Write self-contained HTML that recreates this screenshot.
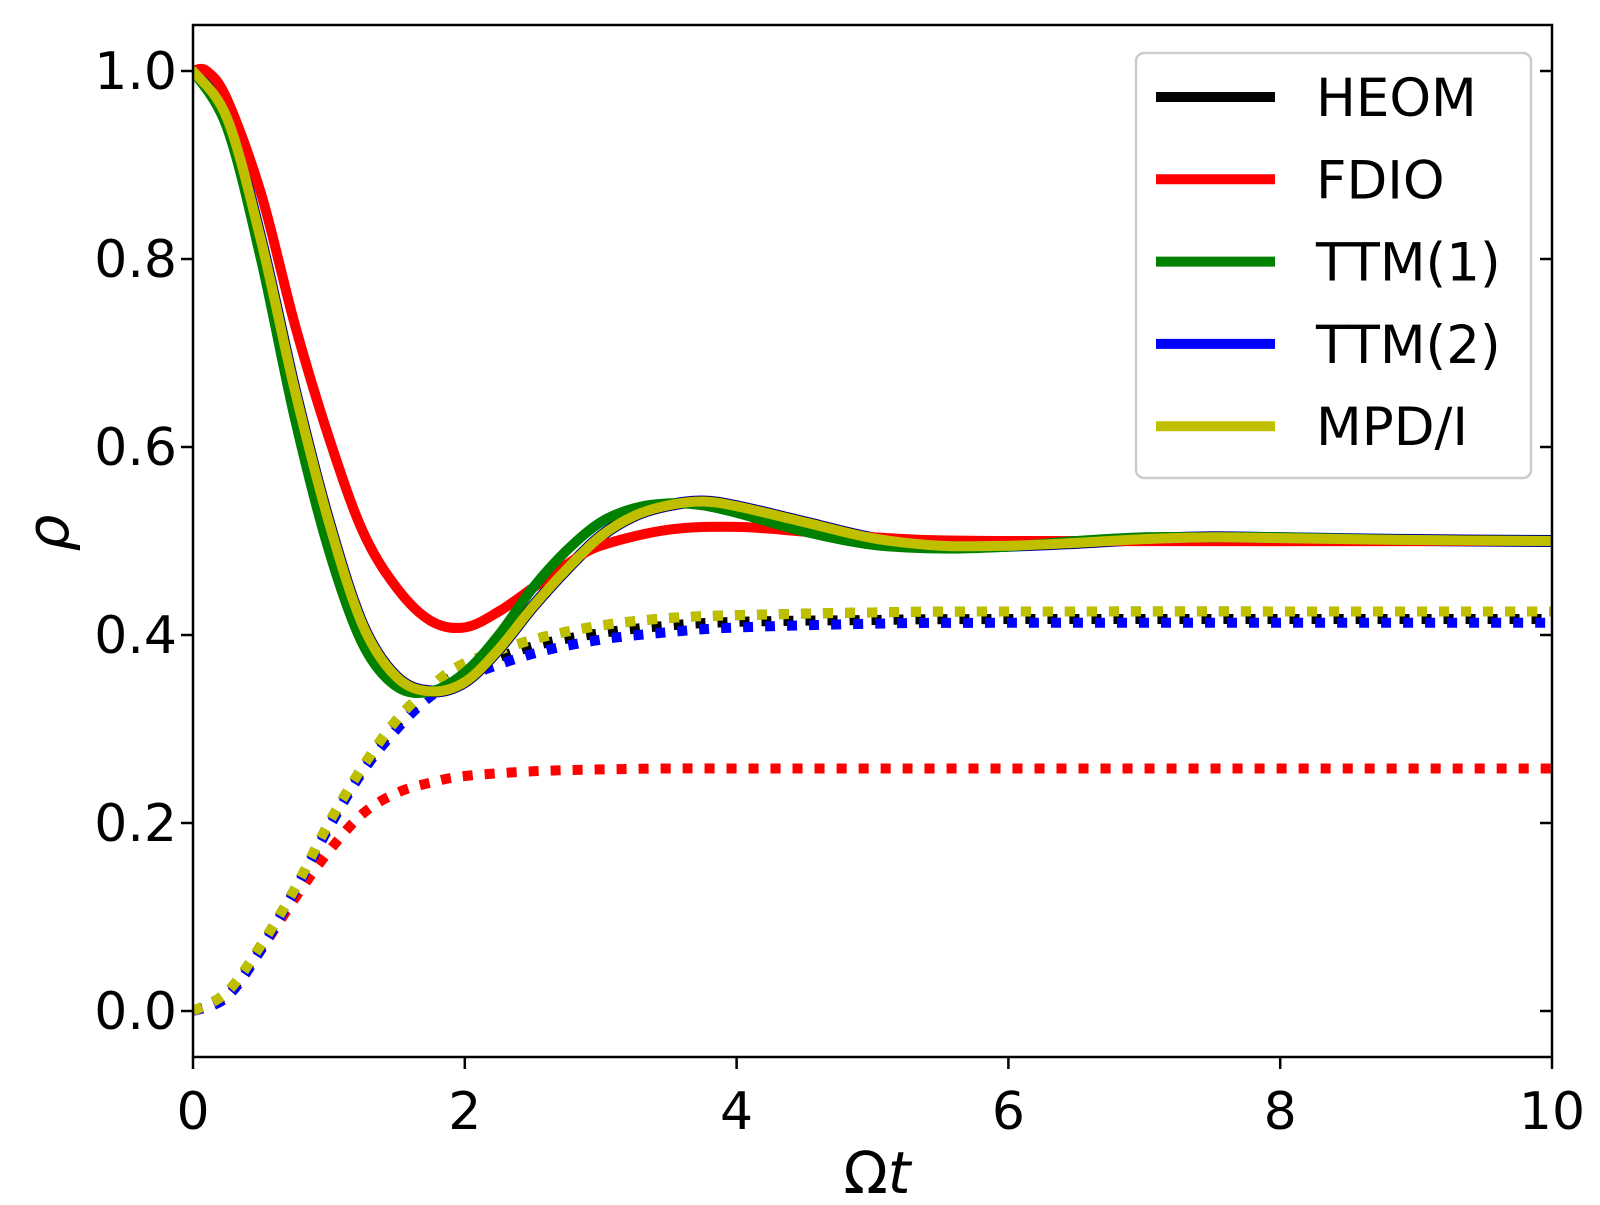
<!DOCTYPE html>
<html><head><meta charset="utf-8"><style>
html,body{margin:0;padding:0;background:#fff;}
svg text{font-family:"DejaVu Sans","Liberation Sans",sans-serif;}
</style></head><body>
<svg id="chart" width="1600" height="1200" viewBox="0 0 1600 1200" xmlns="http://www.w3.org/2000/svg">
<rect width="1600" height="1200" fill="#fff"/>
<g id="series"></g>
<g id="axes"></g>
<g id="legend"></g>
</svg>
<script>
const xTicks=[0,2,4,6,8,10];
const yTicks=[0.0,0.2,0.4,0.6,0.8,1.0];
const yTickLabels=["0.0","0.2","0.4","0.6","0.8","1.0"];
const tA=[0,0.25,0.5,0.75,1,1.25,1.5,1.75,2,2.25,2.5,2.75,3,3.25,3.5,3.75,4,4.5,5,5.5,6,6.5,7,7.5,8,9,10];
const heomPop=[1,0.95,0.82,0.66,0.52,0.41,0.355,0.34,0.35,0.385,0.43,0.47,0.505,0.527,0.538,0.542,0.537,0.52,0.503,0.495,0.495,0.498,0.502,0.504,0.503,0.501,0.5];
const ttm1Pop=[1,0.94,0.80,0.63,0.49,0.39,0.345,0.34,0.36,0.40,0.45,0.49,0.52,0.535,0.54,0.538,0.53,0.51,0.496,0.492,0.494,0.5,0.504,0.504,0.504,0.501,0.5];
const tR=[0,0.1,0.25,0.5,0.75,1,1.25,1.5,1.75,2,2.25,2.5,2.75,3,3.5,4,4.5,5,6,10];
const fdioPop=[1,1,0.97,0.87,0.73,0.61,0.51,0.45,0.415,0.408,0.425,0.45,0.475,0.495,0.512,0.515,0.51,0.504,0.5,0.5];
const tC=[0,0.25,0.5,0.75,1,1.25,1.5,1.75,2,2.5,3,3.5,4,5,6,10];
const mpdCoh=[0,0.02,0.07,0.13,0.2,0.26,0.31,0.345,0.37,0.395,0.41,0.418,0.421,0.424,0.425,0.425];
const ttm2Coh=[0,0.015,0.065,0.128,0.195,0.255,0.3,0.335,0.355,0.38,0.395,0.403,0.408,0.412,0.413,0.413];
const heomCoh=[0,0.018,0.068,0.13,0.198,0.258,0.305,0.34,0.362,0.388,0.402,0.41,0.414,0.416,0.417,0.417];
const fdioCoh=[0,0.015,0.065,0.12,0.17,0.21,0.232,0.243,0.25,0.255,0.257,0.258,0.258,0.258,0.258,0.258];

const X0=193,X1=1552,Y0=1011,Y1=71,TOP=25,BOT=1057;
const sx=v=>X0+(X1-X0)*v/10;
const sy=v=>Y0+(Y1-Y0)*v;
const NS="http://www.w3.org/2000/svg";
function mk(tag,attrs,parent){const e=document.createElementNS(NS,tag);for(const k in attrs)e.setAttribute(k,attrs[k]);parent.appendChild(e);return e;}
function pathD(ts,vs){
  const p=ts.map((t,i)=>[sx(t),sy(vs[i])]);
  let d=`M${p[0][0]},${p[0][1]}`;
  for(let i=0;i<p.length-1;i++){
    const a=p[Math.max(0,i-1)],b=p[i],c=p[i+1],e=p[Math.min(p.length-1,i+2)];
    const c1=[b[0]+(c[0]-a[0])/6,b[1]+(c[1]-a[1])/6],c2=[c[0]-(e[0]-b[0])/6,c[1]-(e[1]-b[1])/6];
    d+=` C${c1[0]},${c1[1]} ${c2[0]},${c2[1]} ${c[0]},${c[1]}`;
  }
  return d;
}
const S=document.getElementById('series');
function line(ts,vs,color,w,dash,name){
  const e=mk('path',{d:pathD(ts,vs),fill:'none',stroke:color,'stroke-width':w,'stroke-linejoin':'round'},S);
  if(dash){e.setAttribute('stroke-dasharray','10 12');}else{e.setAttribute('stroke-linecap','round');}
  
  
}
mk('clipPath',{id:'clip'},S);
S.setAttribute('clip-path','url(#clip)');
mk('rect',{x:X0,y:TOP,width:X1-X0,height:BOT-TOP},document.getElementById('clip'));
line(tC,heomCoh,'#000',10,true,'heom-coherence');
line(tC,fdioCoh,'#ff0000',10,true,'fdio-coherence');
line(tC,mpdCoh,'#008000',10,true,'ttm1-coherence');
line(tC,ttm2Coh,'#0000ff',10,true,'ttm2-coherence');
line(tC,mpdCoh,'#bfbf00',10,true,'mpdi-coherence');
line(tA,heomPop,'#0000ff',12,false,'ttm2-population');
line(tA,heomPop,'#000',11,false,'heom-population');
line(tR,fdioPop,'#ff0000',10,false,'fdio-population');
line(tA,ttm1Pop,'#008000',10,false,'ttm1-population');
line(tA,heomPop,'#bfbf00',10,false,'mpdi-population');

const A=document.getElementById('axes');
const fr=mk('rect',{x:X0,y:TOP,width:X1-X0,height:BOT-TOP,fill:'none',stroke:'#000','stroke-width':2.5},A);

xTicks.forEach(v=>{
  mk('line',{x1:sx(v),x2:sx(v),y1:BOT,y2:BOT+12,stroke:'#000','stroke-width':2.5},A);
  const t=mk('text',{x:sx(v),y:1129,'font-size':52,'text-anchor':'middle'},A);t.textContent=v;
  
});
yTicks.forEach((v,i)=>{
  mk('line',{x1:X0-12,x2:X0,y1:sy(v),y2:sy(v),stroke:'#000','stroke-width':2.5},A);
  mk('line',{x1:X1-12,x2:X1,y1:sy(v),y2:sy(v),stroke:'#000','stroke-width':2.5},A);
  const t=mk('text',{x:177,y:sy(v)+18,'font-size':52,'text-anchor':'end'},A);t.textContent=yTickLabels[i];
  
});
let xt=mk('text',{x:877,y:1193,'font-size':58,'text-anchor':'middle'},A);
xt.innerHTML='Ω<tspan font-style="italic">t</tspan>';

let yt=mk('text',{x:0,y:0,'font-size':58,'font-style':'italic','text-anchor':'middle',transform:'translate(68,533) rotate(-90)'},A);
yt.textContent='ρ';


const L=document.getElementById('legend');
mk('rect',{x:1136,y:53,width:395,height:425,rx:8,fill:'#fff','fill-opacity':0.8,stroke:'#ccc','stroke-width':2.5},L);
const legNames=["HEOM","FDIO","TTM(1)","TTM(2)","MPD/I"];
const legColors=["#000","#ff0000","#008000","#0000ff","#bfbf00"];
legNames.forEach((n,i)=>{
  const y=97+i*82.3;
  const g=mk('g',{},L);
  
  mk('line',{x1:1156,x2:1275,y1:y,y2:y,stroke:legColors[i],'stroke-width':10},g);
  const t=mk('text',{x:1316,y:y+19,'font-size':53},g);t.textContent=n;
});
</script>
</body></html>
